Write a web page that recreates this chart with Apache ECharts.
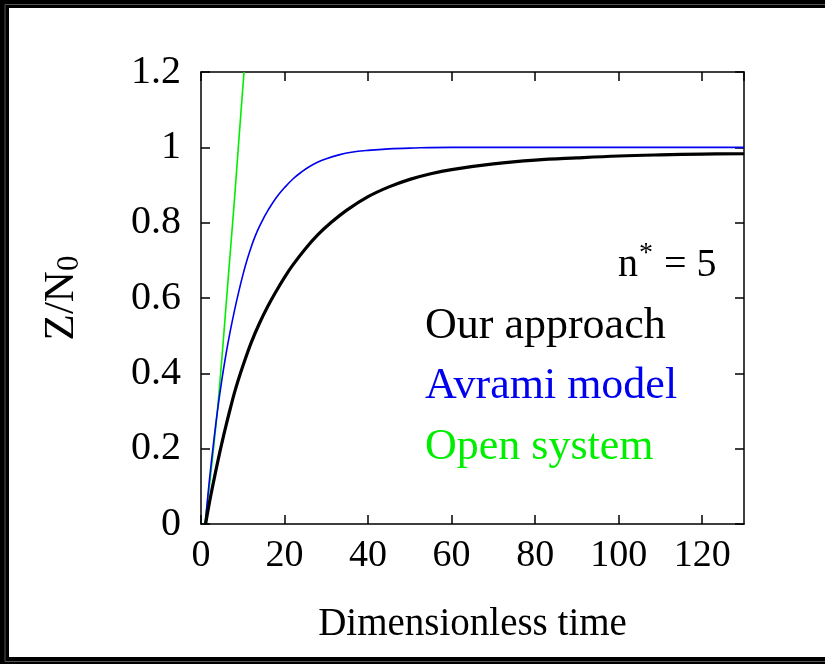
<!DOCTYPE html>
<html>
<head>
<meta charset="utf-8">
<script src="https://cdn.jsdelivr.net/npm/echarts@6/dist/echarts.min.js"></script>
<style>
  html, body { margin: 0; padding: 0; background: #fff; }
  #chart { width: 825px; height: 664px; }
</style>
</head>
<body>
<div id="chart"></div>
<script>
// Time samples and Z/N0 values for each curve
const ourT = [1.1, 2, 3, 4, 5, 6, 7, 8, 9, 10, 12, 14, 16, 18, 20, 22, 25, 28, 31, 35,
              40, 45, 50, 55, 60, 70, 80, 90, 100, 110, 120, 130];
const ourV = [0, 0.056, 0.112, 0.165, 0.215, 0.262, 0.306, 0.348, 0.385, 0.419, 0.481, 0.533, 0.578, 0.618, 0.655, 0.688, 0.731, 0.768, 0.799, 0.834,
              0.869, 0.895, 0.915, 0.930, 0.941, 0.956, 0.966, 0.972, 0.977, 0.980, 0.982, 0.983];

const avramiT = [1, 2, 3, 4, 5, 6, 7, 8, 9, 10, 11, 12, 13, 14, 15, 16, 18, 20, 22, 24,
                 26, 28, 30, 33, 36, 40, 45, 50, 60, 80, 130];
const avramiV = [0, 0.115, 0.215, 0.305, 0.383, 0.452, 0.512, 0.566, 0.615, 0.66, 0.70, 0.735, 0.765, 0.79, 0.812, 0.832, 0.866, 0.893, 0.916, 0.934,
                 0.949, 0.961, 0.970, 0.980, 0.987, 0.992, 0.996, 0.998, 1.0, 1.0, 1.0];

const openT = [0.9, 2, 3, 4, 5, 6, 7, 8, 9, 10.3];
const openV = [0, 0.1, 0.2, 0.31, 0.44, 0.58, 0.72, 0.86, 1.01, 1.2];

const xTicks = { min: 0, max: 130, step: 20 };
const yTicks = { min: 0, max: 1.2, step: 0.2 };

const legendLines = ['Our approach', 'Avrami model', 'Open system'];

const pairs = (t, v) => t.map((x, i) => [x, v[i]]);
const FONT = '"Liberation Serif", "Times New Roman", serif';

const chart = echarts.init(document.getElementById('chart'), null, { renderer: 'canvas' });

const axisCommon = {
  axisLine: { show: true, onZero: false, lineStyle: { color: '#000', width: 1.5 } },
  axisTick: { show: true, inside: true, length: 9, lineStyle: { color: '#000', width: 1.5 } },
  splitLine: { show: false }
};

chart.setOption({
  backgroundColor: '#fff',
  animation: false,
  grid: { left: 201, right: 81, top: 72, bottom: 140, containLabel: false },
  xAxis: [
    Object.assign({}, axisCommon, {
      type: 'value', min: xTicks.min, max: xTicks.max, interval: xTicks.step,
      position: 'bottom',
      name: 'Dimensionless time', nameLocation: 'middle', nameGap: 81,
      nameTextStyle: { fontFamily: FONT, fontSize: 39, color: '#000' },
      axisLabel: { margin: 13, fontFamily: FONT, fontSize: 38, color: '#000', showMaxLabel: false }
    }),
    Object.assign({}, axisCommon, {
      type: 'value', min: xTicks.min, max: xTicks.max, interval: xTicks.step,
      position: 'top', axisLabel: { show: false }
    })
  ],
  yAxis: [
    Object.assign({}, axisCommon, {
      type: 'value', min: yTicks.min, max: yTicks.max, interval: yTicks.step,
      position: 'left',
      name: 'Z/N{sub|0}', nameLocation: 'middle', nameGap: 116, nameRotate: 90,
      nameTextStyle: {
        fontFamily: FONT, fontSize: 43, color: '#000',
        rich: { sub: { fontFamily: FONT, fontSize: 31, color: '#000', verticalAlign: 'bottom', padding: [16, 0, 0, 0] } }
      },
      axisLabel: { margin: 20, fontFamily: FONT, fontSize: 40, color: '#000',
        formatter: v => String(Math.round(v * 10) / 10) }
    }),
    Object.assign({}, axisCommon, {
      type: 'value', min: yTicks.min, max: yTicks.max, interval: yTicks.step,
      position: 'right', axisLabel: { show: false }
    })
  ],
  series: [
    {
      type: 'line', name: legendLines[2], data: pairs(openT, openV),
      showSymbol: false, smooth: 0.3,
      lineStyle: { color: '#00ee00', width: 1.6 }, clip: true, z: 3
    },
    {
      type: 'line', name: legendLines[1], data: pairs(avramiT, avramiV),
      showSymbol: false, smooth: 0.4,
      lineStyle: { color: '#0000ee', width: 1.6 }, clip: true, z: 4
    },
    {
      type: 'line', name: legendLines[0], data: pairs(ourT, ourV),
      showSymbol: false, smooth: 0.4,
      lineStyle: { color: '#000', width: 3.2 }, clip: true, z: 5
    }
  ],
  graphic: [
    // dark frame bands along the top, left and bottom edges
    { type: 'rect', shape: { x: 0, y: 0, width: 825, height: 8 }, style: { fill: '#000' }, silent: true },
    { type: 'rect', shape: { x: 0, y: 0, width: 9, height: 664 }, style: { fill: '#000' }, silent: true },
    { type: 'rect', shape: { x: 0, y: 657, width: 825, height: 7 }, style: { fill: '#000' }, silent: true },
    { type: 'line', shape: { x1: 5, y1: 4.5, x2: 825, y2: 4.5 }, style: { stroke: '#555', lineWidth: 1 }, silent: true },
    { type: 'line', shape: { x1: 5, y1: 4.5, x2: 5, y2: 661.5 }, style: { stroke: '#555', lineWidth: 1 }, silent: true },
    { type: 'line', shape: { x1: 5, y1: 661.5, x2: 825, y2: 661.5 }, style: { stroke: '#555', lineWidth: 1 }, silent: true },
    {
      type: 'text', left: 618, top: 240,
      style: {
        text: 'n{sup|*} = 5', fontFamily: FONT, fontSize: 40, fill: '#000',
        rich: { sup: { fontFamily: FONT, fontSize: 28, fill: '#000', padding: [0, 1, 22, 1] } }
      }
    },
    { type: 'text', left: 425, top: 304, style: { text: legendLines[0], fontFamily: FONT, fontSize: 44, fill: '#000' } },
    { type: 'text', left: 425, top: 364, style: { text: legendLines[1], fontFamily: FONT, fontSize: 44, fill: '#0000ee' } },
    { type: 'text', left: 425, top: 425, style: { text: legendLines[2], fontFamily: FONT, fontSize: 44, fill: '#00ee00' } }
  ]
});
</script>
</body>
</html>
